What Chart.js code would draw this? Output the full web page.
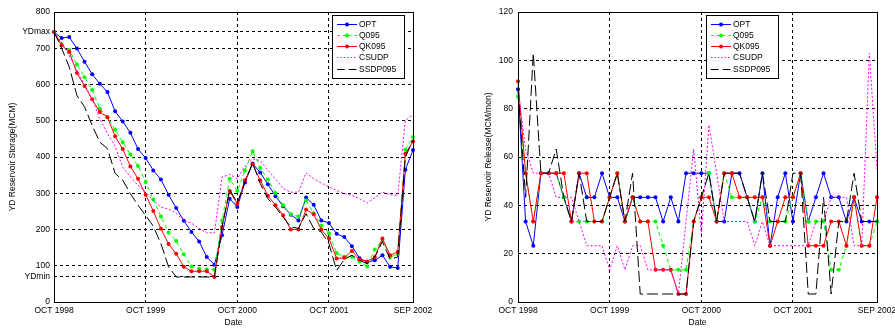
<!DOCTYPE html>
<html>
<head>
<meta charset="utf-8">
<script src="https://cdn.jsdelivr.net/npm/chart.js@4.4.0/dist/chart.umd.min.js"></script>
<style>
html, body { margin: 0; padding: 0; background: #fff; }
#wrap { position: relative; width: 895px; height: 329px; overflow: hidden; }
#storage { position: absolute; left: 0; top: 0; }
#release { position: absolute; left: 445px; top: 0; }
</style>
</head>
<body>
<div id="wrap">
    <canvas id="storage" width="445" height="329"></canvas>
    <canvas id="release" width="450" height="329"></canvas>
</div>
<script>
// ===============================
// DATA
// ===============================
const MON = ['OCT','NOV','DEC','JAN','FEB','MAR','APR','MAY','JUN','JUL','AUG','SEP'];
const MONTHS = [];
for (let i = 0; i < 48; i++) {
    MONTHS.push(MON[i % 12] + ' ' + (1998 + Math.floor((i + 9) / 12)));
}
const X_TICKS = ['OCT 1998', 'OCT 1999', 'OCT 2000', 'OCT 2001', 'SEP 2002'];

const SERIES = ['OPT', 'Q095', 'QK095', 'CSUDP', 'SSDP095'];

// storage (MCM)
const STORAGE_TICKS = [0, 100, 200, 300, 400, 500, 600, 700, 800];
const YD_MIN = 69;
const YD_MAX = 745;
const OPT_S   = [745,728,731,699,663,628,602,579,526,498,467,422,397,363,338,296,259,224,193,167,124,103,184,285,262,330,382,357,325,292,264,241,225,288,268,225,218,188,179,154,121,110,115,129,97,94,365,419];
const Q095_S  = [745,712,695,655,620,585,533,510,475,441,407,375,331,283,236,192,168,132,98,92,90,89,225,340,306,363,416,370,338,301,267,242,236,280,245,211,190,135,125,125,112,98,145,172,124,131,420,455];
const QK095_S = [745,708,690,632,596,559,524,510,457,422,374,340,296,251,202,160,133,97,85,85,85,69,207,306,271,336,380,336,293,267,239,200,200,255,242,200,175,120,122,141,117,112,124,175,129,138,409,443];
const CSUDP_S = [745,715,680,640,600,560,505,465,430,372,345,322,303,280,262,256,245,223,218,203,191,191,345,352,340,375,395,390,363,340,313,303,303,356,340,328,317,308,299,294,285,273,288,303,296,294,501,517];
const SSDP_S  = [745,700,648,570,538,487,441,423,355,336,299,267,239,209,161,97,69,69,69,69,69,69,207,310,273,331,384,327,285,262,234,207,203,244,203,193,161,87,117,129,115,106,124,167,118,124,400,446];

// release (MCM/mon)
const OPT_R   = [88,33.3,23.3,53.3,53.3,53.3,43.3,33.3,53.3,43.3,43.3,53.3,43.3,43.3,33.3,43.3,43.3,43.3,43.3,33.3,43.3,33.3,53.3,53.3,53.3,53.3,33.3,33.3,53.3,53.3,43.3,33.3,53.3,23.3,43.3,53.3,33.3,53.3,33.3,43.3,53.3,43.3,43.3,33.3,43.3,33.3,33.3,33.3];
const Q095_R  = [85,53.3,33.3,53.3,53.3,53.3,43.3,33.3,33.3,33.3,33.3,33.3,43.3,53.3,33.3,43.3,33.3,33.3,33.3,23.3,13.3,13.3,13.3,33.3,43.3,53.3,33.3,53.3,43.3,43.3,43.3,33.3,43.3,33.3,33.3,33.3,43.3,53.3,33.3,33.3,33.3,13.3,13.3,23.3,43.3,23.3,23.3,33.3];
const QK095_R = [91.3,53.3,33.3,53.3,53.3,53.3,53.3,33.3,53.3,53.3,33.3,33.3,43.3,53.3,33.3,43.3,33.3,33.3,13.3,13.3,13.3,3.3,3.3,33.3,43.3,43.3,33.3,53.3,53.3,43.3,43.3,43.3,43.3,23.3,33.3,43.3,43.3,53.3,23.3,23.3,23.3,33.3,33.3,23.3,43.3,23.3,23.3,43.3];
const CSUDP_R = [88,63,53.3,53.3,53.3,43.3,43.3,43.3,33.3,23.3,23.3,23.3,13.3,23.3,13.3,23.3,23.3,13.3,13.3,13.3,13.3,3.3,33.3,63.3,28,73.3,53.3,33.3,33.3,33.3,33.3,23.3,33.3,23.3,23.3,23.3,23.3,23.3,23.3,33.3,33.3,43.3,43.3,43.3,23.3,23.3,103,55];
const SSDP_R  = [88,43.3,103,53.3,53.3,63.3,43.3,33.3,53.3,33.3,33.3,33.3,43.3,53.3,33.3,53.3,3.3,3.3,3.3,3.3,3.3,3.3,3.3,33.3,43.3,53.3,33.3,53.3,53.3,53.3,43.3,33.3,53.3,33.3,33.3,33.3,53.3,53.3,3.3,3.3,43.3,3.3,33.3,33.3,53.3,33.3,33.3,33.3];

// ===============================
// STYLE
// ===============================
const FONT = { family: '"Liberation Sans", Arial, sans-serif', size: 8.5 };
const STYLES = [
    { color: '#0000ff', dash: [],      points: true  },
    { color: '#00ff00', dash: [4, 3],  points: true  },
    { color: '#ff0000', dash: [],      points: true  },
    { color: '#ff00ff', dash: [2, 2],  points: false },
    { color: '#000000', dash: [11, 4], points: false }
];
const GRID_DASH = [3, 3];

function buildDatasets(list) {
    return list.map((data, i) => ({
        label: SERIES[i],
        data: data,
        borderColor: STYLES[i].color,
        backgroundColor: STYLES[i].color,
        borderDash: STYLES[i].dash,
        borderWidth: 1,
        pointRadius: STYLES[i].points ? 2 : 0,
        pointBorderWidth: 0,
        tension: 0,
        fill: false,
        order: 5 - i
    }));
}

// frame round the plot area (matlab style box)
const framePlugin = {
    id: 'frame',
    afterDatasetsDraw(chart) {
        const a = chart.chartArea;
        const ctx = chart.ctx;
        ctx.save();
        ctx.strokeStyle = '#000';
        ctx.lineWidth = 1;
        ctx.strokeRect(Math.round(a.left) + 0.5, Math.round(a.top) + 0.5,
            Math.round(a.right - a.left), Math.round(a.bottom - a.top));
        ctx.restore();
    }
};

// legend box inside the axes
const boxLegend = {
    id: 'boxLegend',
    afterDraw(chart, args, opts) {
        const ctx = chart.ctx;
        const x = opts.x, y = opts.y;
        ctx.save();
        ctx.fillStyle = '#fff';
        ctx.fillRect(x, y, opts.w, opts.h);
        ctx.strokeStyle = '#000';
        ctx.lineWidth = 1;
        ctx.strokeRect(x + 0.5, y + 0.5, opts.w, opts.h);
        chart.data.datasets.forEach((ds, i) => {
            const cy = Math.round(y + 8.5 + i * 11.3) + 0.5;
            ctx.strokeStyle = ds.borderColor;
            ctx.setLineDash(ds.borderDash.length ? [ds.borderDash[0] * 0.7, ds.borderDash[1]] : []);
            ctx.beginPath();
            ctx.moveTo(x + 5, cy);
            ctx.lineTo(x + 25, cy);
            ctx.stroke();
            ctx.setLineDash([]);
            if (ds.pointRadius) {
                ctx.fillStyle = ds.borderColor;
                ctx.beginPath();
                ctx.arc(x + 15, cy, 2, 0, Math.PI * 2);
                ctx.fill();
            }
            ctx.fillStyle = '#000';
            ctx.font = FONT.size + 'px ' + FONT.family;
            ctx.textBaseline = 'middle';
            ctx.fillText(ds.label, x + 27, cy);
        });
        ctx.restore();
    }
};

function xScale() {
    return {
        type: 'category',
        offset: false,
        grid: { color: '#000', lineWidth: 1, drawTicks: false },
        border: { display: false, dash: GRID_DASH },
        ticks: {
            autoSkip: false, maxRotation: 0, padding: 4, color: '#000', font: FONT,
            callback: (val) => X_TICKS.includes(MONTHS[val]) ? MONTHS[val] : null
        },
        title: { display: true, text: 'Date', color: '#000', font: FONT, padding: { top: 0, bottom: 1 } },
        afterFit: (s) => { s.height = 27; s.paddingLeft = 0; s.paddingRight = 0; }
    };
}

function makeChart(id, datasets, yOpts, padRight, yWidth, titlePad, legendPos) {
    return new Chart(document.getElementById(id), {
        type: 'line',
        data: { labels: MONTHS, datasets: datasets },
        options: {
            responsive: false,
            animation: false,
            devicePixelRatio: 1,
            layout: { padding: { left: 0, top: 12, right: padRight, bottom: 0 } },
            plugins: {
                legend: { display: false },
                tooltip: { enabled: false },
                boxLegend: legendPos
            },
            scales: {
                x: xScale(),
                y: Object.assign({
                    grid: { color: '#000', lineWidth: 1, drawTicks: false },
                    border: { display: false, dash: GRID_DASH },
                    afterFit: (s) => { s.width = yWidth; s.paddingTop = 0; s.paddingBottom = 0; }
                }, yOpts, {
                    title: { display: true, text: yOpts.titleText, color: '#000', font: FONT, padding: { top: titlePad, bottom: 0 } }
                })
            }
        },
        plugins: [framePlugin, boxLegend]
    });
}

// -------- STORAGE --------
makeChart('storage',
    buildDatasets([OPT_S, Q095_S, QK095_S, CSUDP_S, SSDP_S]),
    {
        min: 0, max: 800,
        titleText: 'YD Reservoir Storage(MCM)',
        afterBuildTicks: (s) => {
            const vals = STORAGE_TICKS.concat([YD_MIN, YD_MAX]).sort((a, b) => a - b);
            s.ticks = vals.map(v => ({ value: v }));
        },
        ticks: {
            autoSkip: false, padding: 4, color: '#000', font: FONT,
            callback: (v) => v === YD_MIN ? 'YDmin' : (v === YD_MAX ? 'YDmax' : v)
        }
    },
    32, 54, 8,
    { x: 332, y: 15, w: 72, h: 63 }
);

// -------- RELEASE --------
makeChart('release',
    buildDatasets([OPT_R, Q095_R, QK095_R, CSUDP_R, SSDP_R]),
    {
        min: 0, max: 120,
        titleText: 'YD Reservoir Release(MCM/mon)',
        ticks: { stepSize: 20, autoSkip: false, padding: 5, color: '#000', font: FONT }
    },
    18, 73, 39,
    { x: 261, y: 15, w: 72, h: 63 }
);
</script>
</body>
</html>
